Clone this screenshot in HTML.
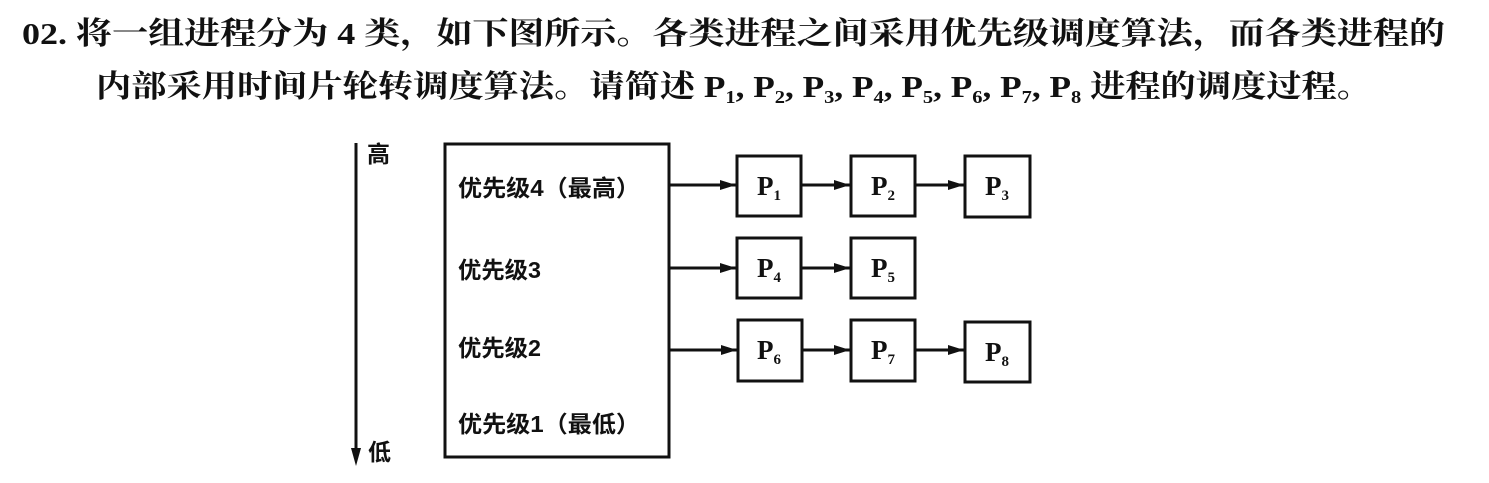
<!DOCTYPE html>
<html><head><meta charset="utf-8"><style>
html,body{margin:0;padding:0;background:#fff;}
svg{display:block}
text{font-family:"Liberation Serif","Noto Serif CJK SC","Noto Sans CJK SC",serif;font-weight:bold;fill:#111}
.s{font-family:"Liberation Sans","Noto Sans CJK SC",sans-serif;font-weight:bold}
</style></head><body>
<svg width="1489" height="483" viewBox="0 0 1489 483" xmlns="http://www.w3.org/2000/svg">
<defs><marker id="a" markerWidth="16" markerHeight="10" refX="16" refY="5" orient="auto" markerUnits="userSpaceOnUse"><path d="M0,0 L16,5 L0,10 Z" fill="#111"/></marker></defs>
<text x="22" y="44" font-size="31" textLength="1423" lengthAdjust="spacingAndGlyphs">02. 将一组进程分为 4 类，如下图所示。各类进程之间采用优先级调度算法，而各类进程的</text>
<text x="96" y="97" font-size="31" textLength="1276" lengthAdjust="spacingAndGlyphs">内部采用时间片轮转调度算法。请简述 P<tspan font-size="18" dy="6">1</tspan><tspan dy="-6">, P</tspan><tspan font-size="18" dy="6">2</tspan><tspan dy="-6">, P</tspan><tspan font-size="18" dy="6">3</tspan><tspan dy="-6">, P</tspan><tspan font-size="18" dy="6">4</tspan><tspan dy="-6">, P</tspan><tspan font-size="18" dy="6">5</tspan><tspan dy="-6">, P</tspan><tspan font-size="18" dy="6">6</tspan><tspan dy="-6">, P</tspan><tspan font-size="18" dy="6">7</tspan><tspan dy="-6">, P</tspan><tspan font-size="18" dy="6">8</tspan><tspan dy="-6"> 进程的调度过程。</tspan></text>
<line x1="356" y1="143" x2="356" y2="452" stroke="#111" stroke-width="3"/>
<path d="M351,448 L361,448 L356,466 Z" fill="#111"/>
<text class="s" x="367" y="162" font-size="23">高</text>
<text class="s" x="368" y="460" font-size="23">低</text>
<rect x="445" y="144" width="224" height="313" fill="none" stroke="#111" stroke-width="3"/>
<text class="s" x="458" y="196" font-size="23" textLength="182" lengthAdjust="spacingAndGlyphs">优先级4（最高）</text>
<text class="s" x="458" y="278" font-size="23" textLength="83" lengthAdjust="spacingAndGlyphs">优先级3</text>
<text class="s" x="458" y="356" font-size="23" textLength="83" lengthAdjust="spacingAndGlyphs">优先级2</text>
<text class="s" x="458" y="432" font-size="23" textLength="182" lengthAdjust="spacingAndGlyphs">优先级1（最低）</text>
<g stroke="#111" stroke-width="3" fill="none">
<rect x="737" y="156" width="64" height="60"/><rect x="851" y="156" width="64" height="60"/><rect x="965" y="156" width="65" height="61"/>
<rect x="737" y="238" width="64" height="60"/><rect x="851" y="238" width="64" height="60"/>
<rect x="738" y="320" width="64" height="61"/><rect x="851" y="320" width="64" height="61"/><rect x="965" y="322" width="65" height="60"/>
<line x1="669" y1="185" x2="736" y2="185" marker-end="url(#a)"/>
<line x1="801" y1="185" x2="850" y2="185" marker-end="url(#a)"/>
<line x1="915" y1="185" x2="964" y2="185" marker-end="url(#a)"/>
<line x1="669" y1="268" x2="736" y2="268" marker-end="url(#a)"/>
<line x1="801" y1="268" x2="850" y2="268" marker-end="url(#a)"/>
<line x1="669" y1="350" x2="737" y2="350" marker-end="url(#a)"/>
<line x1="802" y1="350" x2="850" y2="350" marker-end="url(#a)"/>
<line x1="915" y1="350" x2="964" y2="350" marker-end="url(#a)"/>
</g>
<g font-size="27">
<text x="757" y="195">P<tspan font-size="15" dy="5">1</tspan></text>
<text x="871" y="195">P<tspan font-size="15" dy="5">2</tspan></text>
<text x="985" y="195">P<tspan font-size="15" dy="5">3</tspan></text>
<text x="757" y="277">P<tspan font-size="15" dy="5">4</tspan></text>
<text x="871" y="277">P<tspan font-size="15" dy="5">5</tspan></text>
<text x="757" y="359">P<tspan font-size="15" dy="5">6</tspan></text>
<text x="871" y="359">P<tspan font-size="15" dy="5">7</tspan></text>
<text x="985" y="361">P<tspan font-size="15" dy="5">8</tspan></text>
</g>
</svg>
</body></html>
